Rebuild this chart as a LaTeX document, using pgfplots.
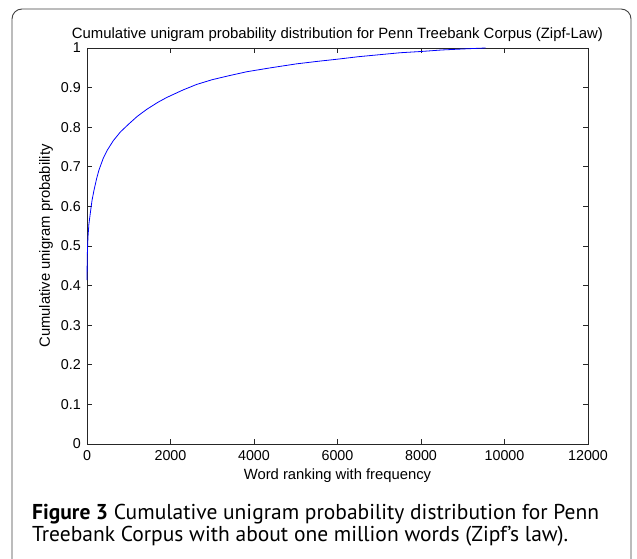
\documentclass[border=0pt]{standalone}
\usepackage{pgfplots}
\pgfplotsset{compat=1.18}
\usepackage{fontspec}
\setmainfont{Liberation Sans}
\newfontfamily\capfont{PT Sans}
\begin{document}
\begin{tikzpicture}[x=1pt,y=1pt]
\useasboundingbox (0,0) rectangle (637,559);
\draw[line width=0.9pt, rounded corners=10pt, black!75] (12,-20) rectangle (631,550);
\begin{axis}[
  at={(87pt,115pt)}, anchor=south west,
  scale only axis, width=501pt, height=396pt,
  xmin=0, xmax=12000, ymin=0, ymax=1,
  scaled x ticks=false, scaled y ticks=false,
  xtick={0,2000,4000,6000,8000,10000,12000},
  xticklabels={0,2000,4000,6000,8000,10000,12000},
  ytick={0,0.1,0.2,0.3,0.4,0.5,0.6,0.7,0.8,0.9,1},
  yticklabels={0,0.1,0.2,0.3,0.4,0.5,0.6,0.7,0.8,0.9,1},
  tick align=inside, major tick length=5pt,
  axis line style={black!85, line width=0.8pt},
  every tick/.style={black!85, line width=0.8pt},
  /pgf/number format/assume math mode=true,
  tick label style={font=\fontsize{14.3}{16}\selectfont},
  yticklabel style={anchor=east, inner sep=0pt, xshift=-6pt},
  xticklabel style={anchor=north, inner sep=0pt, yshift=-6pt},
  xlabel={Word ranking with frequency},
  xlabel style={at={(axis description cs:0.5,0)}, anchor=base, yshift=-36pt, inner sep=0pt, font=\fontsize{14.8}{16}\selectfont},
  ylabel={Cumulative unigram probability},
  ylabel style={at={(axis description cs:-0.0739,0.5)}, anchor=base, rotate=0, inner sep=0pt, font=\fontsize{14.8}{16}\selectfont},
  clip=false,
]
\addplot[blue, line width=0.8pt] coordinates {
(1,0.414)(3,0.445)(6,0.47)(12,0.495)(24,0.523)(45,0.555)(88,0.59)(120,0.615)(168,0.641)(230,0.670)(287,0.692)(391,0.722)(486,0.742)(630,0.766)(800,0.788)(1000,0.808)(1200,0.827)(1430,0.845)(1700,0.863)(1909,0.875)(2300,0.894)(2627,0.908)(3000,0.92)(3400,0.93)(3825,0.940)(4400,0.950)(5023,0.960)(5500,0.966)(6020,0.972)(6500,0.978)(7000,0.983)(7500,0.988)(7976,0.991)(8500,0.995)(9094,0.998)(9550,1.0)
};
\node[anchor=base, inner sep=0pt, font=\fontsize{14.9}{16}\selectfont] at (rel axis cs:0.5,1) [yshift=9.5pt] {Cumulative unigram probability distribution for Penn Treebank Corpus (Zipf-Law)};
\end{axis}
\node[anchor=base west, inner sep=0pt, font=\capfont\fontsize{21.5}{23}\selectfont] at (32,39) {\textbf{Figure 3} Cumulative unigram probability distribution for Penn};
\node[anchor=base west, inner sep=0pt, font=\capfont\fontsize{21.5}{23}\selectfont] at (32,17) {Treebank Corpus with about one million words (Zipf’s law).};
\end{tikzpicture}
\end{document}
